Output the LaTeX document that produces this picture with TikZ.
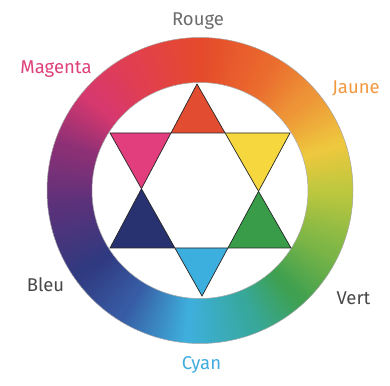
\documentclass[tikz,border=0pt]{standalone}
\usepackage{fontspec}
\setmainfont{Fira Sans}
\usetikzlibrary{calc}

% wheel colours
\definecolor{wRed}{RGB}{229,74,44}
\definecolor{wOrangeRed}{RGB}{234,105,45}
\definecolor{wOrange}{RGB}{238,150,55}
\definecolor{wYellow}{RGB}{238,200,62}
\definecolor{wYellowGreen}{RGB}{190,200,62}
\definecolor{wLightGreen}{RGB}{125,182,70}
\definecolor{wGreen}{RGB}{62,160,80}
\definecolor{wTeal}{RGB}{55,168,155}
\definecolor{wCyan}{RGB}{62,175,220}
\definecolor{wBlue}{RGB}{55,92,165}
\definecolor{wNavy}{RGB}{48,58,128}
\definecolor{wViolet}{RGB}{88,50,122}
\definecolor{wPurple}{RGB}{140,48,118}
\definecolor{wMagenta}{RGB}{215,56,110}
\definecolor{wPink}{RGB}{226,64,76}

% star colours
\definecolor{tRed}{RGB}{226,76,48}
\definecolor{tYellow}{RGB}{246,216,62}
\definecolor{tGreen}{RGB}{56,156,72}
\definecolor{tCyan}{RGB}{60,175,222}
\definecolor{tNavy}{RGB}{40,50,112}
\definecolor{tMagenta}{RGB}{226,62,126}

% label colours
\definecolor{lGray}{RGB}{108,108,108}
\definecolor{lDark}{RGB}{72,72,72}
\definecolor{lMagenta}{RGB}{222,64,122}
\definecolor{lOrange}{RGB}{242,152,62}
\definecolor{lCyan}{RGB}{62,172,222}

% one stretch of the ring: angles #1 -> #2, colours #3 -> #4
\newcommand{\ringpart}[4]{%
  \foreach \k in {0,...,19}{
    \pgfmathsetmacro{\angA}{#1+(#2-#1)*\k/20}
    \pgfmathsetmacro{\angB}{#1+(#2-#1)*(\k+1.4)/20}
    \pgfmathtruncatemacro{\mixp}{100-100*\k/19}
    \fill[#3!\mixp!#4] (0,0) -- (\angA:153) arc[start angle=\angA, end angle=\angB, radius=153] -- cycle;
  }}

\begin{document}
\begin{tikzpicture}[
        x=1pt, y=1pt,
        outline/.style={
            draw=black!85,
            line width=0.7pt,
            line join=miter
        },
        rim/.style={
            draw=black!35,
            line width=0.5pt
        },
        wheellabel/.style={
            anchor=base,
            inner sep=0pt,
            font=\fontsize{18.5}{18.5}\selectfont
        }
        ]
        \useasboundingbox (0,0) rectangle (390,385);
        \fill[white] (0,0) rectangle (390,385);
        \coordinate (c) at (200,194.5);

        % Colour ring
        \begin{scope}[shift={(c)}]
            \ringpart{90}{62}{wRed}{wOrangeRed}
            \ringpart{62}{40}{wOrangeRed}{wOrange}
            \ringpart{40}{18}{wOrange}{wYellow}
            \ringpart{18}{0}{wYellow}{wYellowGreen}
            \ringpart{0}{-25}{wYellowGreen}{wLightGreen}
            \ringpart{-25}{-48}{wLightGreen}{wGreen}
            \ringpart{-48}{-68}{wGreen}{wTeal}
            \ringpart{-68}{-95}{wTeal}{wCyan}
            \ringpart{-95}{-122}{wCyan}{wBlue}
            \ringpart{-122}{-145}{wBlue}{wNavy}
            \ringpart{-145}{-172}{wNavy}{wViolet}
            \ringpart{-172}{-198}{wViolet}{wPurple}
            \ringpart{-198}{-220}{wPurple}{wMagenta}
            \ringpart{-220}{-245}{wMagenta}{wPink}
            \ringpart{-245}{-270}{wPink}{wRed}
            \fill[white] (0,0) circle[radius=108];
            \draw[rim] (0,0) circle[radius=108];
            \draw[rim] (0,0) circle[radius=153];
        \end{scope}

        % Star corners
        \coordinate (upTop) at (197,301);
        \coordinate (upLeft) at (110,137);
        \coordinate (upRight) at (291,137);
        \coordinate (dnBot) at (202,89);
        \coordinate (dnLeft) at (110,252);
        \coordinate (dnRight) at (290,252);

        % Star points
        \fill[tRed] (upTop) -- (intersection of upTop--upLeft and dnLeft--dnRight)
            -- (intersection of upTop--upRight and dnLeft--dnRight) -- cycle;
        \fill[tYellow] (dnRight) -- (intersection of dnRight--dnLeft and upTop--upRight)
            -- (intersection of dnRight--dnBot and upTop--upRight) -- cycle;
        \fill[tGreen] (upRight) -- (intersection of upRight--upTop and dnRight--dnBot)
            -- (intersection of upRight--upLeft and dnRight--dnBot) -- cycle;
        \fill[tCyan] (dnBot) -- (intersection of dnBot--dnLeft and upLeft--upRight)
            -- (intersection of dnBot--dnRight and upLeft--upRight) -- cycle;
        \fill[tNavy] (upLeft) -- (intersection of upLeft--upTop and dnLeft--dnBot)
            -- (intersection of upLeft--upRight and dnLeft--dnBot) -- cycle;
        \fill[tMagenta] (dnLeft) -- (intersection of dnLeft--dnRight and upTop--upLeft)
            -- (intersection of dnLeft--dnBot and upTop--upLeft) -- cycle;

        % Star outline
        \draw[outline] (upTop) -- (upLeft) -- (upRight) -- cycle;
        \draw[outline] (dnBot) -- (dnLeft) -- (dnRight) -- cycle;

        % Labels
        \node[wheellabel, text=lGray] (rouge) at (198,359) {Rouge};
        \node[wheellabel, text=lMagenta] (magenta) at (56,311) {Magenta};
        \node[wheellabel, text=lOrange] (jaune) at (356,291) {Jaune};
        \node[wheellabel, text=lDark] (bleu) at (45.5,93) {Bleu};
        \node[wheellabel, text=lDark] (vert) at (353.5,81) {Vert};
        \node[wheellabel, text=lCyan] (cyan) at (201.5,16) {Cyan};

    \end{tikzpicture}
\end{document}
